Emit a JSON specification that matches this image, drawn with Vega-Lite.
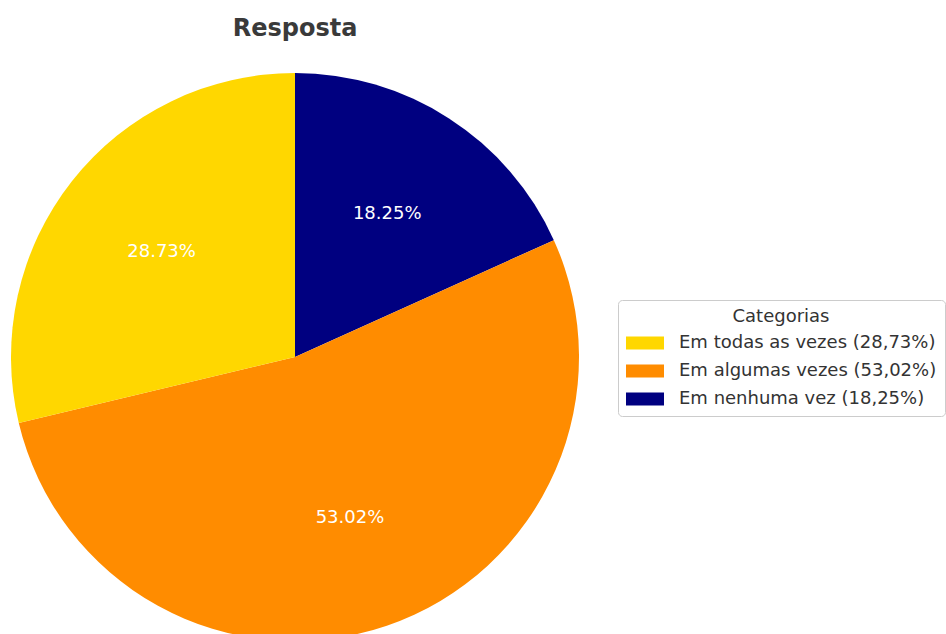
{
  "$schema": "https://vega.github.io/schema/vega-lite/v6.json",
  "autosize": "none",
  "width": 568,
  "height": 568,
  "padding": {"left": 11, "top": 73, "right": 367, "bottom": 0},
  "background": "white",
  "title": {
    "text": "Resposta",
    "font": "DejaVu Sans",
    "fontSize": 24,
    "fontWeight": "bold",
    "color": "#3a3a3a",
    "anchor": "middle",
    "baseline": "alphabetic",
    "offset": 13
  },
  "data": {
    "values": [
      {"categoria": "Em nenhuma vez (18,25%)", "valor": 18.25, "ordem": 1, "rotulo": "18.25%"},
      {"categoria": "Em algumas vezes (53,02%)", "valor": 53.02, "ordem": 2, "rotulo": "53.02%"},
      {"categoria": "Em todas as vezes (28,73%)", "valor": 28.73, "ordem": 3, "rotulo": "28.73%"}
    ]
  },
  "encoding": {
    "theta": {"field": "valor", "type": "quantitative", "stack": true},
    "order": {"field": "ordem", "type": "quantitative", "sort": "ascending"}
  },
  "layer": [
    {
      "mark": {"type": "arc", "strokeWidth": 0},
      "encoding": {
        "color": {
          "field": "categoria",
          "type": "nominal",
          "scale": {
            "domain": ["Em todas as vezes (28,73%)", "Em algumas vezes (53,02%)", "Em nenhuma vez (18,25%)"],
            "range": ["#FFD700", "#FF8C00", "#000080"]
          },
          "legend": {
            "title": "Categorias",
            "orient": "none",
            "legendX": 607,
            "legendY": 227,
            "direction": "vertical",
            "padding": 8,
            "strokeColor": "#cccccc",
            "fillColor": "white",
            "cornerRadius": 4,
            "titleFont": "DejaVu Sans",
            "titleFontSize": 18,
            "titleFontWeight": "normal",
            "titleColor": "#333333",
            "titleAnchor": "middle",
            "titlePadding": 8,
            "labelFont": "DejaVu Sans",
            "labelFontSize": 18,
            "labelColor": "#333333",
            "labelLimit": 500,
            "labelOffset": 15,
            "symbolType": "M-1,-0.342L1,-0.342L1,0.342L-1,0.342Z",
            "symbolSize": 1444,
            "symbolStrokeWidth": 0,
            "symbolOpacity": 1,
            "clipHeight": 18,
            "rowPadding": 10
          }
        }
      }
    },
    {
      "mark": {"type": "text", "radius": 170, "font": "DejaVu Sans", "fontSize": 18, "color": "white"},
      "encoding": {
        "text": {"field": "rotulo", "type": "nominal"}
      }
    }
  ]
}
